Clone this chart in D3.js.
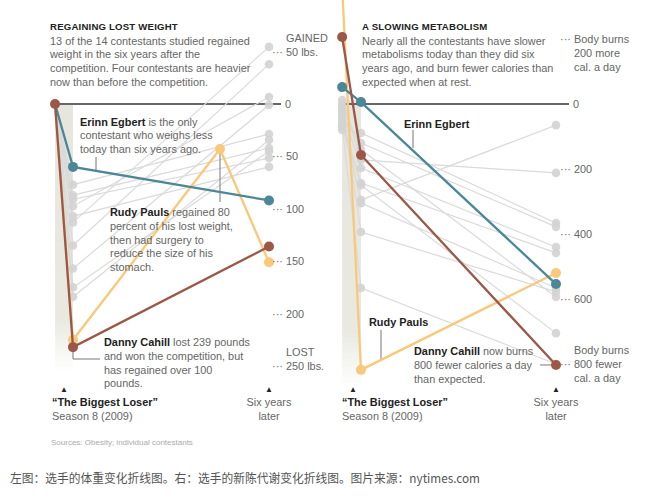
<!DOCTYPE html>
<html><head><meta charset="utf-8">
<script src="https://cdn.jsdelivr.net/npm/d3@7"></script>
<style>
body{margin:0;background:#fff;}
svg{display:block;font-family:"Liberation Sans",Arial,sans-serif;}
.body{fill:#666;font-size:10.9px;}
.bold{fill:#222;font-weight:bold;}
.title{fill:#222;font-weight:bold;font-size:9.6px;letter-spacing:0.2px;}
.tick{fill:#666;font-size:10.9px;}
</style></head><body>
<script>
// ---------- DATA ----------
// Left panel: pounds lost relative to start of competition (positive = lost)
const weightStages = [-0.55, 0, 6];           // years relative to finale
const grayWeightFinale = [77, 87, 91, 97.5, 107, 113, 135, 157, 175, 184];
const grayWeightSix    = [28.7, 42, 51.6, -6.7, 60, -54.5, -38, 1, 45, 34.4];
const egbertWeight = [0, 60, 92];
const dannyWeight  = [0, 232, 136];
const rudyWeightTimes = [-0.55, 0, 4.5, 6];
const rudyWeight   = [0, 225, 43, 151];
const weightTicks = [-50, 0, 50, 100, 150, 200, 250];

// Right panel: metabolic adaptation, calories/day (positive = fewer than expected)
const metaStages = [-0.58, 0, 6];
const grayMetaStart  = [65, -12, 80, 40, 20, 50, 30, 10, 0, 70, 60];
const grayMetaFinale = [295, 172, 89, 120, 197, 243, 305, 394, 140, 566, 250];
const grayMetaSix    = [65, 212, 366, 378, 440, 458, 566, 578, 594, 800, 705];
const egbertMeta = [-52, -6, 554];
const dannyMeta  = [-206, 157, 803];
const rudyMeta   = [-360, 818, 520];
const metaTicks = [-200, 0, 200, 400, 600, 800];

const colors = {gray:"#dadada", grayDot:"#d3d3d3", teal:"#4b8797", brown:"#9b5848", orange:"#f9c87a", zero:"#333"};

// ---------- SETUP ----------
const W = 649, H = 498;
const svg = d3.select("body").append("svg").attr("width", W).attr("height", H);
const defs = svg.append("defs");
const grad = defs.append("linearGradient").attr("id","band").attr("x1",0).attr("x2",0).attr("y1",0).attr("y2",1);
grad.append("stop").attr("offset","0%").attr("stop-color","#e6e6df");
grad.append("stop").attr("offset","80%").attr("stop-color","#e9e9e2");
grad.append("stop").attr("offset","100%").attr("stop-color","#ffffff");

function panel(opts){
  const g = svg.append("g");
  const x = d3.scaleLinear().domain([0,6]).range(opts.xRange);
  const y = d3.scaleLinear().domain(opts.yDomain).range(opts.yRange);
  const line = d3.line().x(d=>x(d[0])).y(d=>y(d[1]));
  g.append("rect").attr("x", x(opts.stages[0])).attr("width", x(0)-x(opts.stages[0]))
    .attr("y", opts.bandTop).attr("height", opts.bandBottom-opts.bandTop).attr("fill","url(#band)");
  g.append("line").attr("x1", x(opts.stages[0])).attr("x2", opts.zeroEnd)
    .attr("y1", y(0)).attr("y2", y(0)).attr("stroke", colors.zero).attr("stroke-width",1.6);
  return {g,x,y,line};
}

// ---------- LEFT PANEL ----------
const L = panel({xRange:[73,269], yDomain:[0,250], yRange:[104,366], stages:weightStages,
  bandTop:105, bandBottom:372, zeroEnd:281});
const grayL = grayWeightFinale.map((f,i)=>[[weightStages[0],0],[0,f],[6,grayWeightSix[i]]]);
L.g.selectAll(".gl").data(grayL).join("path").attr("d",L.line).attr("fill","none")
  .attr("stroke",colors.gray).attr("stroke-width",1.2);
L.g.selectAll(".gd").data(grayL.flatMap(s=>s.slice(1))).join("circle")
  .attr("cx",d=>L.x(d[0])).attr("cy",d=>L.y(d[1])).attr("r",4.3).attr("fill",colors.grayDot).attr("opacity",0.9);

L.g.append("line").attr("x1",96).attr("x2",96).attr("y1",157).attr("y2",L.y(egbertWeight[1]+ (egbertWeight[2]-egbertWeight[1])*((96-73)/196))).attr("stroke","#777");
L.g.append("line").attr("x1",L.x(rudyWeightTimes[2])).attr("x2",L.x(rudyWeightTimes[2])).attr("y1",L.y(rudyWeight[2])).attr("y2",202).attr("stroke","#777");
L.g.append("path").attr("d",`M${L.x(0)},${L.y(dannyWeight[1])} V359 H100`).attr("fill","none").attr("stroke","#777");

function hl(P, times, vals, color, dotIdx){
  const pts = times.map((t,i)=>[t,vals[i]]);
  P.g.append("path").datum(pts).attr("d",P.line).attr("fill","none").attr("stroke",color).attr("stroke-width",2.3);
  P.g.selectAll(null).data(dotIdx.map(i=>pts[i])).join("circle")
    .attr("cx",d=>P.x(d[0])).attr("cy",d=>P.y(d[1])).attr("r",5).attr("fill",color);
}
hl(L, rudyWeightTimes, rudyWeight, colors.orange, [1,2,3]);
hl(L, weightStages, egbertWeight, colors.teal, [1,2]);
hl(L, weightStages, dannyWeight, colors.brown, [0,1,2]);

// ---------- RIGHT PANEL ----------
const R = panel({xRange:[361,556], yDomain:[0,800], yRange:[104,364], stages:metaStages,
  bandTop:100, bandBottom:388, zeroEnd:569});
const grayR = grayMetaStart.map((s,i)=>[[metaStages[0],s],[0,grayMetaFinale[i]],[6,grayMetaSix[i]]]);
R.g.selectAll(".gl").data(grayR).join("path").attr("d",R.line).attr("fill","none")
  .attr("stroke",colors.gray).attr("stroke-width",1.2);
R.g.selectAll(".gd").data(grayR.flatMap(s=>s)).join("circle")
  .attr("cx",d=>R.x(d[0])).attr("cy",d=>R.y(d[1])).attr("r",4.3).attr("fill",colors.grayDot).attr("opacity",0.9);

R.g.append("line").attr("x1",413).attr("x2",413).attr("y1",130).attr("y2",148).attr("stroke","#777");
R.g.append("line").attr("x1",381).attr("x2",381).attr("y1",330).attr("y2",359).attr("stroke","#777");
R.g.append("line").attr("x1",540).attr("x2",R.x(6)).attr("y1",R.y(dannyMeta[2])).attr("y2",R.y(dannyMeta[2])).attr("stroke","#777");

hl(R, metaStages, rudyMeta, colors.orange, [1,2]);
hl(R, metaStages, egbertMeta, colors.teal, [0,1,2]);
hl(R, metaStages, dannyMeta, colors.brown, [0,1,2]);

// ---------- TEXT ----------
function lines(x, y0, lh, arr, cls){
  arr.forEach((t,i)=>{
    const tx = svg.append("text").attr("x",x).attr("y",y0+i*lh).attr("class",cls||"body");
    if (Array.isArray(t)) { tx.append("tspan").attr("class","bold").text(t[0]); tx.append("tspan").text(t[1]); }
    else tx.text(t);
  });
}
svg.append("text").attr("class","title").attr("x",50).attr("y",30).text("REGAINING LOST WEIGHT");
lines(50, 44.5, 13.7, ["13 of the 14 contestants studied regained","weight in the six years after the",
  "competition. Four contestants are heavier","now than before the competition."]);
const lt = svg.append("g");
weightTicks.forEach(v=>{
  const yy = L.y(v)+4;
  if (v===0){ lt.append("text").attr("class","tick").attr("x",285).attr("y",yy).text("0"); return; }
  lt.append("text").attr("class","tick").attr("x",272).attr("y",yy).text("···");
  const lab = v===-50 ? "50 lbs." : v===250 ? "250 lbs." : String(v);
  lt.append("text").attr("class","tick").attr("x",286).attr("y",yy).text(lab);
});
lt.append("text").attr("class","tick").attr("x",286).attr("y",L.y(-50)+4-14).text("GAINED");
lt.append("text").attr("class","tick").attr("x",286).attr("y",L.y(250)+4-14).text("LOST");

lines(80, 125.5, 13.6, [["Erinn Egbert"," is the only"],"contestant who weighs less","today than six years ago."]);
lines(110, 216, 13.8, [["Rudy Pauls"," regained 80"],"percent of his lost weight,","then had surgery to","reduce the size of his","stomach."]);
lines(104, 346, 13.8, [["Danny Cahill"," lost 239 pounds"],"and won the competition, but","has regained over 100","pounds."]);

function bottom(xs, xe){
  svg.append("text").attr("x",xs).attr("y",392).attr("text-anchor","middle").attr("font-size",8).attr("fill","#222").text("▲");
  svg.append("text").attr("x",xe).attr("y",392).attr("text-anchor","middle").attr("font-size",8).attr("fill","#222").text("▲");
}
bottom(64, 269);
svg.append("text").attr("class","body bold").attr("x",52).attr("y",406).text("“The Biggest Loser”");
svg.append("text").attr("class","body").attr("x",52).attr("y",420).text("Season 8 (2009)");
svg.append("text").attr("class","body").attr("x",269).attr("y",406).attr("text-anchor","middle").text("Six years");
svg.append("text").attr("class","body").attr("x",269).attr("y",420).attr("text-anchor","middle").text("later");
svg.append("text").attr("x",51).attr("y",445).attr("font-size",8).attr("fill","#aaa").text("Sources: Obesity; individual contestants");

svg.append("text").attr("class","title").attr("x",362).attr("y",30).text("A SLOWING METABOLISM");
lines(362, 44.5, 13.7, ["Nearly all the contestants have slower","metabolisms today than they did six",
  "years ago, and burn fewer calories than","expected when at rest."]);
const rt = svg.append("g");
metaTicks.forEach(v=>{
  const yy = R.y(v)+4;
  if (v===0){ rt.append("text").attr("class","tick").attr("x",573).attr("y",yy).text("0"); return; }
  rt.append("text").attr("class","tick").attr("x",560).attr("y",yy).text("···");
  if (v===-200){
    rt.append("text").attr("class","tick").attr("x",574).attr("y",yy).text("Body burns");
    rt.append("text").attr("class","tick").attr("x",574).attr("y",yy+14).text("200 more");
    rt.append("text").attr("class","tick").attr("x",574).attr("y",yy+28).text("cal. a day");
  } else if (v===800){
    rt.append("text").attr("class","tick").attr("x",574).attr("y",yy-14).text("Body burns");
    rt.append("text").attr("class","tick").attr("x",574).attr("y",yy).text("800 fewer");
    rt.append("text").attr("class","tick").attr("x",574).attr("y",yy+14).text("cal. a day");
  } else rt.append("text").attr("class","tick").attr("x",574).attr("y",yy).text(String(v));
});
svg.append("text").attr("class","body bold").attr("x",404).attr("y",128).text("Erinn Egbert");
svg.append("text").attr("class","body bold").attr("x",369).attr("y",326).text("Rudy Pauls");
lines(414, 355, 13.8, [["Danny Cahill"," now burns"],"800 fewer calories a day","than expected."]);

bottom(353, 556);
svg.append("text").attr("class","body bold").attr("x",342).attr("y",406).text("“The Biggest Loser”");
svg.append("text").attr("class","body").attr("x",342).attr("y",420).text("Season 8 (2009)");
svg.append("text").attr("class","body").attr("x",556).attr("y",406).attr("text-anchor","middle").text("Six years");
svg.append("text").attr("class","body").attr("x",556).attr("y",420).attr("text-anchor","middle").text("later");

svg.append("text").attr("x",10).attr("y",483).attr("font-family","'Noto Sans CJK SC',sans-serif")
  .attr("font-size",12.5).attr("fill","#555").attr("textLength",470).attr("lengthAdjust","spacingAndGlyphs")
  .text("左图：选手的体重变化折线图。右：选手的新陈代谢变化折线图。图片来源：nytimes.com");
</script>
</body></html>
